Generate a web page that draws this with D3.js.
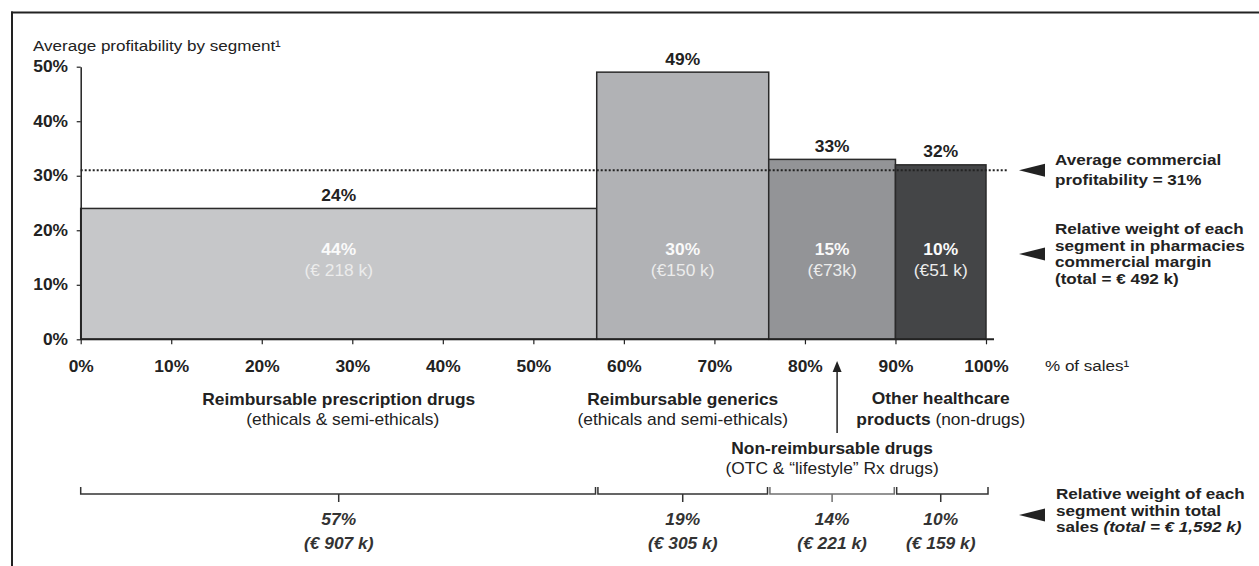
<!DOCTYPE html>
<html>
<head>
<meta charset="utf-8">
<script src="https://cdn.jsdelivr.net/npm/d3@7"></script>
<style>
  html, body { margin: 0; padding: 0; background: #fff; }
  svg { display: block; font-family: "Liberation Sans", Arial, Helvetica, sans-serif; }
</style>
</head>
<body>
<svg id="chart" width="1259" height="566"></svg>
<script>
// Segments of pharmacy business
const segmentNames = ["Reimbursable prescription drugs", "Reimbursable generics", "Non-reimbursable drugs", "Other healthcare products"];
const segmentSubtitles = ["(ethicals & semi-ethicals)", "(ethicals and semi-ethicals)", "(OTC & \u201clifestyle\u201d Rx drugs)", "(non-drugs)"];
// Share of total sales (%) and sales value (k€)
const salesShare = [57, 19, 14, 10];
const salesValue = [907, 305, 221, 159];
// Average commercial profitability per segment (%)
const profitability = [24, 49, 33, 32];
// Share of pharmacies' commercial margin (%) and its value
const marginShare = [44, 30, 15, 10];
const marginLabels = ["(\u20ac 218 k)", "(\u20ac150 k)", "(\u20ac73k)", "(\u20ac51 k)"];
const avgProfitability = 31;
const totalMargin = 492;
const totalSales = "1,592";
// Axis ticks
const yTicks = [0, 10, 20, 30, 40, 50];
const xTicks = [0, 10, 20, 30, 40, 50, 60, 70, 80, 90, 100];

const barColors = ["#c6c7c9", "#b1b2b5", "#939497", "#444547"];
const ink = "#222";
const SX = 1.1;      // horizontal stretch of the lettering
const FS = 15.8;     // base font size

const svg = d3.select("#chart");

const x = d3.scaleLinear().domain([0, 100]).range([80.7, 986]);
const y = d3.scaleLinear().domain([0, 50]).range([339.3, 66.7]);

const ends = d3.cumsum(salesShare);
const segs = salesShare.map((s, i) => ({
  i, start: ends[i] - s, end: ends[i], mid: ends[i] - s / 2
}));

// text helper: positioned text with a slight horizontal stretch
function label(parent, px, py, opts = {}) {
  const sx = opts.sx || SX;
  const t = parent.append("text")
    .attr("transform", `translate(${px},${py}) scale(${sx},1)`)
    .attr("dy", "0.35em")
    .attr("text-anchor", opts.anchor || "middle")
    .attr("font-size", opts.size || FS)
    .attr("font-weight", opts.weight || "normal")
    .attr("font-style", opts.style || "normal")
    .attr("fill", opts.fill || ink);
  if (opts.text !== undefined) t.text(opts.text);
  return t;
}

// page frame (top and left rules)
svg.append("line").attr("x1", 11).attr("x2", 1259).attr("y1", 12.5).attr("y2", 12.5)
  .attr("stroke", ink).attr("stroke-width", 2);
svg.append("line").attr("x1", 12).attr("x2", 12).attr("y1", 11.5).attr("y2", 566)
  .attr("stroke", ink).attr("stroke-width", 2);

// title
label(svg, 33, 46, { anchor: "start", text: "Average profitability by segment\u00b9", size: 15.5 });

// bars (width = share of sales, height = profitability)
svg.append("g").selectAll("rect").data(segs).join("rect")
  .attr("x", d => x(d.start))
  .attr("y", d => y(profitability[d.i]))
  .attr("width", d => x(d.end) - x(d.start))
  .attr("height", d => y(0) - y(profitability[d.i]))
  .attr("fill", d => barColors[d.i])
  .attr("stroke", "#2a2a2a")
  .attr("stroke-width", 1.5);

// profitability labels above bars
const gTop = svg.append("g");
segs.forEach(d => {
  label(gTop, x(d.mid), y(profitability[d.i]) - 13, { weight: "bold", text: profitability[d.i] + "%" });
});

// margin share inside bars
const gIn = svg.append("g");
segs.forEach(d => {
  label(gIn, x(d.mid), 249, { weight: "bold", fill: "#fafafa", text: marginShare[d.i] + "%" });
  label(gIn, x(d.mid), 270, { fill: "#ececec", text: marginLabels[d.i] });
});

// average profitability dotted line
svg.append("line")
  .attr("x1", x(0)).attr("x2", 1007)
  .attr("y1", y(avgProfitability)).attr("y2", y(avgProfitability))
  .attr("stroke", ink).attr("stroke-width", 2)
  .attr("stroke-dasharray", "2,2");

// y axis
const yAxis = svg.append("g").attr("transform", `translate(${x(0)},0)`)
  .call(d3.axisLeft(y).tickValues(yTicks).tickFormat(d => d + "%").tickSize(4).tickSizeOuter(0).tickPadding(7.5));
yAxis.select(".domain").attr("stroke", ink).attr("stroke-width", 1.5);
yAxis.selectAll(".tick line").attr("stroke", ink).attr("stroke-width", 1.2);
yAxis.selectAll("text")
  .attr("transform", `scale(${SX},1)`)
  .attr("font-family", null).attr("font-size", FS).attr("font-weight", "bold").attr("fill", ink);

// x axis
const xAxis = svg.append("g").attr("transform", `translate(0,${y(0)})`)
  .call(d3.axisBottom(x).tickValues(xTicks).tickFormat(d => d + "%").tickSize(5).tickSizeOuter(0));
xAxis.select(".domain").remove();
xAxis.append("line").attr("x1", x(0)).attr("x2", x(100) + 8).attr("stroke", ink).attr("stroke-width", 2);
xAxis.selectAll(".tick line").attr("stroke", ink).attr("stroke-width", 1.2);
xAxis.selectAll("text")
  .attr("y", 26.7).attr("dy", "0.35em")
  .attr("transform", `scale(${SX},1)`)
  .attr("font-family", null).attr("font-size", FS).attr("font-weight", "bold").attr("fill", ink);

label(svg, 1045, 366, { anchor: "start", text: "% of sales\u00b9", size: 15.5 });

// segment names under the axis
const gNames = svg.append("g");
label(gNames, x(segs[0].mid), 399, { weight: "bold", text: segmentNames[0] });
label(gNames, x(segs[0].mid) + 4, 419, { text: segmentSubtitles[0] });
label(gNames, x(segs[1].mid), 399, { weight: "bold", text: segmentNames[1] });
label(gNames, x(segs[1].mid), 419, { text: segmentSubtitles[1] });
label(gNames, x(segs[2].mid), 448, { weight: "bold", text: segmentNames[2] });
label(gNames, x(segs[2].mid), 468, { text: segmentSubtitles[2] });
const otherWords = segmentNames[3].split(" ");
label(gNames, x(segs[3].mid), 398, { weight: "bold", text: otherWords.slice(0, 2).join(" ") });
const l4 = label(gNames, x(segs[3].mid), 419, {});
l4.append("tspan").attr("font-weight", "bold").text(otherWords[2]);
l4.append("tspan").text(" " + segmentSubtitles[3]);

// arrow from the non-reimbursable label to its axis position
const ax = x(segs[2].mid) + 5;
svg.append("line").attr("x1", ax).attr("x2", ax).attr("y1", 433).attr("y2", 370)
  .attr("stroke", ink).attr("stroke-width", 1.5);
svg.append("path")
  .attr("d", `M${ax},361 L${ax - 4.5},372 L${ax + 4.5},372 Z`)
  .attr("fill", ink);

// brackets for share of total sales
const bracketY = 494;
const gBr = svg.append("g");
segs.forEach(d => {
  const x0 = x(d.start) + (d.i === 0 ? 0 : 1.2), x1 = x(d.end) - (d.i === 3 ? -2 : 1.2);
  const col = d.i === 2 ? "#707070" : "#333";
  gBr.append("path")
    .attr("d", `M${x0},${bracketY - 7}V${bracketY}H${x1}V${bracketY - 7}M${x(d.mid)},${bracketY}V${bracketY + 8}`)
    .attr("fill", "none").attr("stroke", col).attr("stroke-width", 1.5);
  label(gBr, x(d.mid), 519, { weight: "bold", style: "italic", fill: "#333", text: salesShare[d.i] + "%" });
  label(gBr, x(d.mid), 543, { weight: "bold", style: "italic", fill: "#333", text: `(\u20ac ${salesValue[d.i]} k)` });
});

// right-hand annotations with pointer triangles
function pointer(cy) {
  svg.append("path").attr("d", `M1019,${cy} L1045,${cy - 6.5} L1045,${cy + 6.5} Z`).attr("fill", ink);
}
const note = { anchor: "start", weight: "bold", size: 14.6, sx: 1.17 };
const gNote = svg.append("g");
pointer(y(avgProfitability));
label(gNote, 1055, 160, { ...note, text: "Average commercial" });
label(gNote, 1055, 180, { ...note, text: `profitability = ${avgProfitability}%` });

pointer(254);
["Relative weight of each", "segment in pharmacies", "commercial margin", `(total = \u20ac ${totalMargin} k)`]
  .forEach((t, k) => label(gNote, 1055, 229 + k * 16.5, { ...note, text: t }));

pointer(515);
label(gNote, 1056, 494, { ...note, text: "Relative weight of each" });
label(gNote, 1056, 510.5, { ...note, text: "segment within total" });
const l5 = label(gNote, 1056, 527, { ...note });
l5.append("tspan").text("sales ");
l5.append("tspan").attr("font-style", "italic").text(`(total = \u20ac ${totalSales} k)`);
</script>
</body>
</html>
